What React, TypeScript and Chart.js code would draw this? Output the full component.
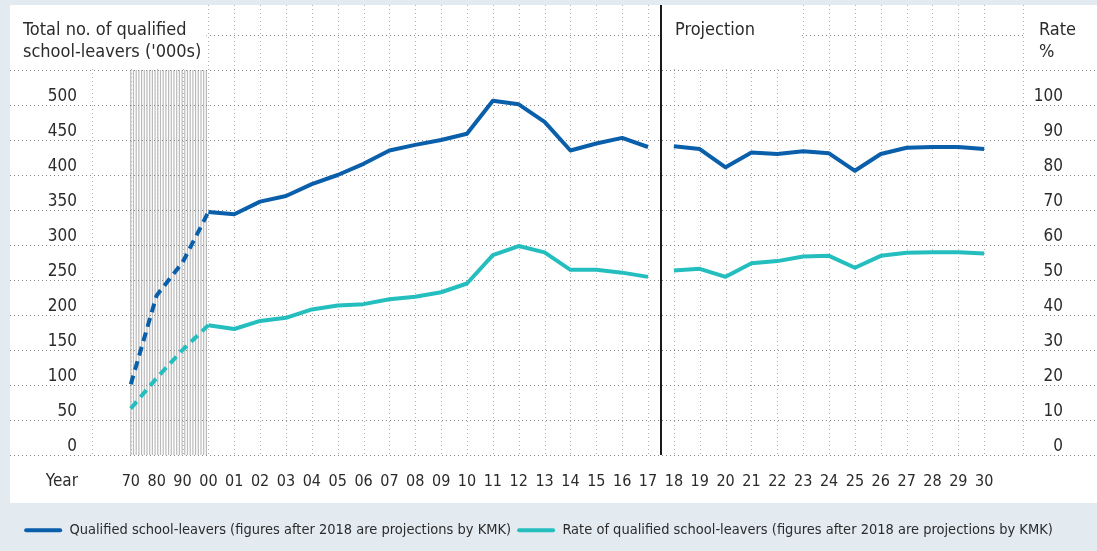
import React, { useEffect, useRef } from 'react';
import { Chart, registerables } from 'chart.js';

Chart.register(...registerables);

// ---- Data ----
const YEARS = ['70', '80', '90', '00', '01', '02', '03', '04', '05', '06', '07', '08', '09', '10', '11', '12', '13', '14', '15', '16', '17', '18', '19', '20', '21', '22', '23', '24', '25', '26', '27', '28', '29', '30'];
const QUALIFIED = [101, 228, 275, 347, 344, 362, 370, 387, 400, 416, 435, 443, 450, 459, 506, 501, 476, 435, 445, 453, 440, 441, 437, 411, 432, 430, 434, 431, 406, 430, 439, 440, 440, 437];
const RATE = [13.3, 22, 30, 37.1, 36, 38.3, 39.2, 41.6, 42.7, 43.1, 44.5, 45.2, 46.5, 49, 57.1, 59.7, 57.9, 52.9, 52.9, 52.1, 50.9, 52.7, 53.2, 50.9, 54.8, 55.4, 56.7, 56.9, 53.5, 56.9, 57.8, 57.9, 57.9, 57.6];
const LEFT_TICKS = [0, 50, 100, 150, 200, 250, 300, 350, 400, 450, 500];
const RIGHT_TICKS = [0, 10, 20, 30, 40, 50, 60, 70, 80, 90, 100];
const GRID_VALUES = [0, 50, 100, 150, 200, 250, 300, 350, 400, 450, 500, 550, 600];
const LEGEND_QUALIFIED = 'Qualified school-leavers (figures after 2018 are projections by KMK)';
const LEGEND_RATE = 'Rate of qualified school-leavers (figures after 2018 are projections by KMK)';

const W = 1097;
const H = 551;
const FONT = "'Liberation Sans Narrow', 'DejaVu Sans Condensed', 'Roboto', sans-serif";
const BG = '#e3ebf1';
const TEXT = '#2b2b2b';
const BLUE = '#0a5fab';
const TEAL = '#24bebe';

const LABELS = ['', ...YEARS, ''];
const DASH_END = LABELS.indexOf('00');
const GAP_AT = LABELS.indexOf('17');
const HATCH_START = LABELS.indexOf('70');
const PROJ_BOX_END = LABELS.indexOf('23');

const decor = {
  id: 'decor',
  beforeDraw(chart: any) {
    const { ctx, chartArea: ca, scales } = chart;
    const x = scales.x;
    const y = scales.y;
    ctx.save();
    ctx.fillStyle = BG;
    ctx.fillRect(0, 0, W, H);
    ctx.fillStyle = '#ffffff';
    ctx.fillRect(10, 5, W - 10, 498);

    // hatch (historic decades)
    const hx0 = x.getPixelForValue(HATCH_START);
    const hx1 = x.getPixelForValue(DASH_END);
    const hy0 = y.getPixelForValue(550);
    const hy1 = y.getPixelForValue(0);
    ctx.strokeStyle = '#bababa';
    ctx.lineWidth = 1.2;
    for (let px = hx0; px <= hx1 + 0.1; px += 2.7) {
      ctx.beginPath();
      ctx.moveTo(px, hy0);
      ctx.lineTo(px, hy1);
      ctx.stroke();
    }

    // vertical grid
    ctx.lineWidth = 1;
    ctx.setLineDash([1, 3]);
    ctx.strokeStyle = '#b4b4b4';
    const vx: number[] = [ca.left, ca.right];
    for (let i = 1; i < LABELS.length - 1; i++) vx.push(x.getPixelForValue(i));
    vx.forEach((px) => {
      const p = Math.round(px) + 0.5;
      ctx.beginPath();
      ctx.moveTo(p, ca.top);
      ctx.lineTo(p, ca.bottom);
      ctx.stroke();
    });

    // horizontal grid
    ctx.strokeStyle = '#858585';
    GRID_VALUES.forEach((v) => {
      const p = Math.round(y.getPixelForValue(v)) + 0.5;
      ctx.beginPath();
      ctx.moveTo(10, p);
      ctx.lineTo(W, p);
      ctx.stroke();
    });
    ctx.setLineDash([]);

    // title boxes
    const boxBottom = y.getPixelForValue(550) - 3;
    const divX = (x.getPixelForValue(GAP_AT) + x.getPixelForValue(GAP_AT + 1)) / 2;
    ctx.fillStyle = '#ffffff';
    ctx.fillRect(10, 5, x.getPixelForValue(DASH_END) - 12, boxBottom - 5);
    ctx.fillRect(divX, 5, x.getPixelForValue(PROJ_BOX_END) - 2 - divX, boxBottom - 5);
    ctx.fillRect(ca.right + 2, 5, W - ca.right - 2, boxBottom - 5);

    // projection divider
    ctx.strokeStyle = '#1a1a1a';
    ctx.lineWidth = 2;
    ctx.beginPath();
    ctx.moveTo(Math.round(divX), 5);
    ctx.lineTo(Math.round(divX), ca.bottom);
    ctx.stroke();
    ctx.restore();
  },
  afterDraw(chart: any) {
    const { ctx, scales } = chart;
    const x = scales.x;
    const divX = (x.getPixelForValue(GAP_AT) + x.getPixelForValue(GAP_AT + 1)) / 2;
    ctx.save();
    ctx.fillStyle = TEXT;
    ctx.font = `18px ${FONT}`;
    ctx.textBaseline = 'alphabetic';
    ctx.textAlign = 'left';
    ctx.fillText('Total no. of qualified', 23, 35);
    ctx.fillText("school-leavers ('000s)", 23, 57);
    ctx.fillText('Projection', divX + 14, 35);
    ctx.fillText('Rate', 1039, 35);
    ctx.fillText('%', 1039, 57);
    ctx.font = `17px ${FONT}`;
    ctx.textAlign = 'right';
    ctx.textBaseline = 'middle';
    ctx.fillText('Year', 78, x.top + 17 + 9.6);
    ctx.restore();
  },
};

export default function App() {
  const ref = useRef<HTMLCanvasElement>(null);

  useEffect(() => {
    document.body.style.margin = '0';
    const canvas = ref.current;
    if (!canvas) return;
    const lineDs = (label: string, data: number[], axis: string, color: string) => ({
      label,
      data: [null, ...data, null],
      yAxisID: axis,
      borderColor: color,
      backgroundColor: color,
      borderWidth: 4,
      pointRadius: 0,
      pointHoverRadius: 0,
      tension: 0,
      borderJoinStyle: 'round',
      segment: {
        borderDash: (c: any) => (c.p1DataIndex <= DASH_END ? [9, 6] : undefined),
        borderColor: (c: any) => (c.p0DataIndex === GAP_AT ? 'rgba(0,0,0,0)' : undefined),
      },
    });
    const chart = new Chart(canvas, {
      type: 'line',
      data: {
        labels: LABELS,
        datasets: [
          lineDs(LEGEND_QUALIFIED, QUALIFIED, 'y', BLUE),
          lineDs(LEGEND_RATE, RATE, 'y1', TEAL),
        ],
      },
      options: {
        responsive: false,
        animation: false,
        devicePixelRatio: 1,
        layout: { padding: { top: 5, left: 14, right: 34, bottom: 3.5 } },
        plugins: {
          tooltip: { enabled: false },
          legend: {
            position: 'bottom',
            labels: {
              boxWidth: 38,
              boxHeight: 4,
              padding: 6,
              color: TEXT,
              font: { family: FONT, size: 14.5 },
              generateLabels: (ch: any) =>
                ch.data.datasets.map((d: any, i: number) => ({
                  text: d.label,
                  fillStyle: d.borderColor,
                  strokeStyle: d.borderColor,
                  lineWidth: 0,
                  hidden: false,
                  datasetIndex: i,
                  fontColor: TEXT,
                  borderRadius: 2,
                })),
            },
          },
        },
        scales: {
          x: {
            type: 'category',
            offset: true,
            grid: { display: false, drawTicks: false },
            border: { display: false },
            ticks: {
              autoSkip: false,
              maxRotation: 0,
              padding: 17,
              color: TEXT,
              font: { family: FONT, size: 16 },
            },
            afterFit: (s: any) => {
              s.height = 62;
              s.paddingLeft = 0;
              s.paddingRight = 0;
            },
          },
          y: {
            position: 'left',
            min: 0,
            max: 450 * 50 / 35,
            grid: { display: false, drawTicks: false },
            border: { display: false },
            afterBuildTicks: (s: any) => {
              s.ticks = LEFT_TICKS.map((v) => ({ value: v }));
            },
            ticks: {
              padding: 15,
              labelOffset: -8,
              color: TEXT,
              font: { family: FONT, size: 17 },
            },
            afterFit: (s: any) => {
              s.width = 78;
              s.paddingTop = 0;
              s.paddingBottom = 0;
            },
          },
          y1: {
            position: 'right',
            min: 0,
            max: 450 * 10 / 35,
            grid: { display: false, drawTicks: false },
            border: { display: false },
            afterBuildTicks: (s: any) => {
              s.ticks = RIGHT_TICKS.map((v) => ({ value: v }));
            },
            ticks: {
              padding: 4,
              labelOffset: -8,
              crossAlign: 'far',
              color: TEXT,
              font: { family: FONT, size: 17 },
            },
            afterFit: (s: any) => {
              s.width = 40;
              s.paddingTop = 0;
              s.paddingBottom = 0;
            },
          },
        },
      },
      plugins: [decor],
    } as any);
    return () => chart.destroy();
  }, []);

  return (
    <div style={{ position: 'absolute', left: 0, top: 0, width: W, height: H }}>
      <canvas ref={ref} width={W} height={H} style={{ display: 'block' }} />
    </div>
  );
}
